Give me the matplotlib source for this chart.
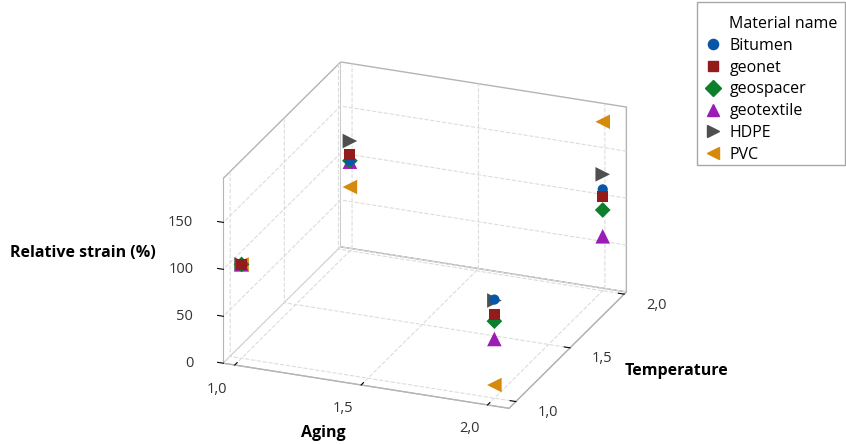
import matplotlib
matplotlib.use("Agg")
import matplotlib.pyplot as plt
from matplotlib.lines import Line2D
from matplotlib.patches import Rectangle
from mpl_toolkits.mplot3d import proj3d

plt.rcParams['font.family'] = ['Open Sans', 'DejaVu Sans']

materials = ['Bitumen', 'geonet', 'geospacer', 'geotextile', 'HDPE', 'PVC']
aging = [1.0, 2.0, 1.0, 2.0]
temperature = [1.0, 1.0, 2.0, 2.0]
strain = {
    'Bitumen':    [100, 105, 96, 108],
    'geonet':     [100, 89, 103, 100],
    'geospacer':  [100, 82, 96, 86],
    'geotextile': [100, 63, 95, 58],
    'HDPE':       [100, 104, 117, 124],
    'PVC':        [100, 14, 68, 180],
}
x_ticks = [1.0, 1.5, 2.0]
x_ticklabels = ['1,0', '1,5', '2,0']
z_ticks = [0, 50, 100, 150]
z_ticklabels = ['0', '50', '100', '150']

colors = {'Bitumen': '#0a56a6', 'geonet': '#931b1b', 'geospacer': '#0b7f2b',
          'geotextile': '#9b1db5', 'HDPE': '#4f4f4f', 'PVC': '#d68a0c'}
markers = {'Bitumen': 'o', 'geonet': 's', 'geospacer': 'D', 'geotextile': '^',
           'HDPE': '>', 'PVC': '<'}
sizes = {'Bitumen': 54, 'geonet': 62, 'geospacer': 64, 'geotextile': 110,
         'HDPE': 110, 'PVC': 110}

W, H = 846, 444
side = 471
cx, cy = 418.5, 241.5
fig = plt.figure(figsize=(W / 100, H / 100), dpi=100)
ax = fig.add_axes([(cx - side / 2) / W, 1 - (cy + side / 2) / H, side / W, side / H],
                  projection='3d', proj_type='ortho', computed_zorder=False)
ax.view_init(elev=23.3, azim=-68.25)
ax.set_box_aspect((307, 316, 201))

draw_order = ['HDPE', 'PVC', 'geotextile', 'geospacer', 'Bitumen', 'geonet']
for m in draw_order:
    ax.scatter(aging, temperature, strain[m], c=colors[m], marker=markers[m],
               s=sizes[m], depthshade=False, edgecolors='none')

xmin, xmax = 0.955, 2.085
ymin, ymax = 0.937, 2.02
ax.set_xlim(xmin, xmax)
ax.set_ylim(ymin, ymax)
ax.set_zlim(0, 197)
ax.set_xticks(x_ticks)
ax.set_yticks(x_ticks)
ax.set_zticks(z_ticks)
ax.set_xticklabels([''] * len(x_ticks))
ax.set_yticklabels([''] * len(x_ticks))
ax.set_zticklabels([''] * len(z_ticks))
ax.zaxis.set_ticks_position('lower')

# tick marks pointing outward like the reference
ax.xaxis._get_tickdir = lambda position: 1
ax.yaxis._get_tickdir = lambda position: 0
ax.zaxis._get_tickdir = lambda position: 0

for axis in (ax.xaxis, ax.yaxis, ax.zaxis):
    axis.set_pane_color((1, 1, 1, 1))
    axis.pane.set_edgecolor('#b4b4b4')
    axis._axinfo['grid'].update(color='#dcdcdc', linestyle='--', linewidth=0.8)
    axis.line.set_color('#b4b4b4')
    axis._axinfo['tick'].update(color='#b4b4b4', inward_factor=0.0, outward_factor=0.25)

fig.canvas.draw()


def to_px(x, y, z):
    X, Y, _ = proj3d.proj_transform(x, y, z, ax.M)
    return ax.transData.transform((X, Y))


tick_kw = dict(fontsize=10.5, color='#333333', va='center')
for t, lab in zip(x_ticks, x_ticklabels):
    px, py = to_px(t, ymin, 0)
    fig.text((px - 18) / W, (py - 24) / H, lab, ha='center', **tick_kw)
for t, lab in zip(x_ticks, x_ticklabels):
    px, py = to_px(xmax, t, 0)
    fig.text((px + 32) / W, (py - 11) / H, lab, ha='center', **tick_kw)
for t, lab in zip(z_ticks, z_ticklabels):
    px, py = to_px(xmin, ymin, t)
    fig.text((px - 30) / W, (py + 0) / H, lab, ha='right', **tick_kw)

fig.text(83 / W, 1 - 253 / H, 'Relative strain (%)', ha='center', va='center',
         fontsize=11.5, fontweight='bold')
fig.text(323 / W, 1 - 433 / H, 'Aging', ha='center', va='center',
         fontsize=11.5, fontweight='bold')
fig.text(676 / W, 1 - 371 / H, 'Temperature', ha='center', va='center',
         fontsize=11.5, fontweight='bold')

handles = [Line2D([], [], linestyle='none')]
handles += [Line2D([], [], linestyle='none', marker=markers[m], color=colors[m],
                   markersize=sizes[m] ** 0.5 * (0.85 if markers[m] in '^<>' else 1.0))
            for m in materials]
labels = ['Material name'] + materials
leg = fig.legend(handles, labels, loc='upper right',
                 bbox_to_anchor=(845 / W, 1 - 9 / H), frameon=False, fontsize=11.5,
                 handlelength=1.0, handletextpad=0.55, labelspacing=0.36,
                 borderpad=0.45, borderaxespad=0)
fig.patches.append(Rectangle((697 / W, 1 - 165 / H), 148 / W, 163 / H,
                             transform=fig.transFigure, fill=False,
                             edgecolor='#a8a8a8', linewidth=1.0))

fig.savefig('out.png', dpi=100)
